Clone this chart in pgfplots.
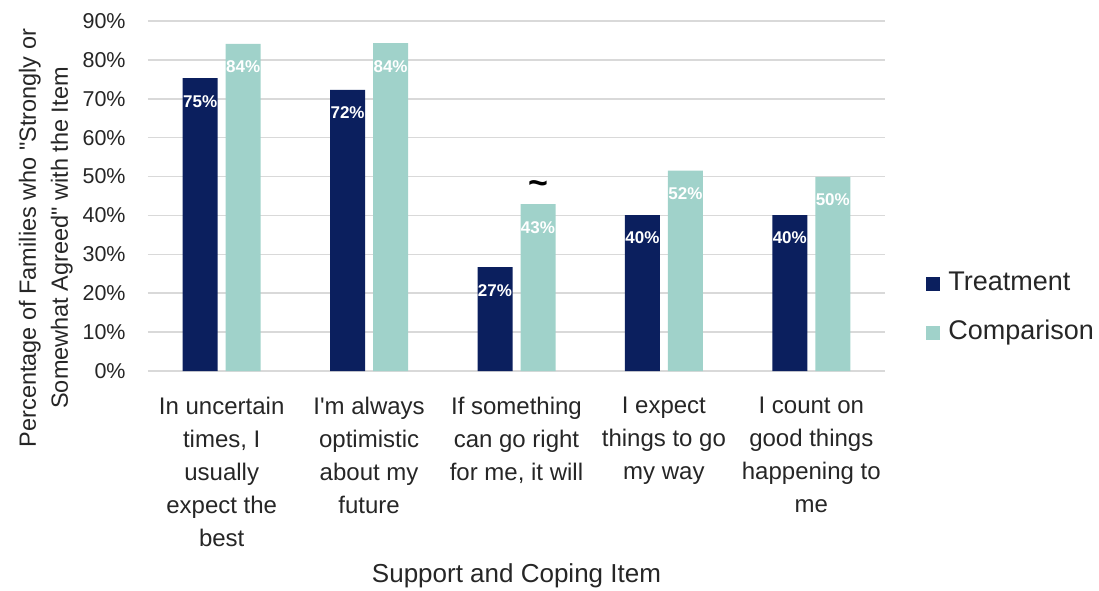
\documentclass[border=0pt]{standalone}
\usepackage{fontspec}
\setmainfont{Liberation Sans}[Ligatures=TeXOff]
\usepackage{pgfplots}
\pgfplotsset{compat=1.18}
\definecolor{treat}{HTML}{0B1F5E}
\definecolor{comp}{HTML}{A0D2CA}
\definecolor{gridc}{HTML}{D9D9D9}
\definecolor{txt}{HTML}{262626}
\begin{document}
\begin{tikzpicture}
\begin{axis}[
  at={(0,0)}, anchor=south west,
  scale only axis,
  width=368.5pt, height=175pt,
  xmin=-0.5, xmax=4.5,
  ymin=0, ymax=90,
  ytick={0,10,...,90},
  xtick={0,1,2,3,4},
  xticklabels={{In uncertain\\times, I\\usually\\expect the\\best},
               {I'm always\\optimistic\\about my\\future},
               {If something\\can go right\\for me, it will},
               {I expect\\things to go\\my way},
               {I count on\\good things\\happening to\\me}},
  xticklabel style={align=center, anchor=north, inner sep=0pt, yshift=-13pt,
     font=\fontsize{12}{16.5}\selectfont, text=txt},
  yticklabel={\pgfmathprintnumber{\tick}\%},
  yticklabel style={anchor=east, inner sep=0pt, xshift=-11pt,
     font=\fontsize{10.75}{12}\selectfont, text=txt},
  /pgf/number format/assume math mode=true,
  major tick length=0pt,
  axis line style={draw=none},
  ymajorgrids,
  grid style={gridc, line width=0.75pt},
  ybar=4pt,
  bar width=17.5pt,
  xlabel={Support and Coping Item},
  xlabel style={at={(axis description cs:0.5,0)}, anchor=center, yshift=-102.5pt,
     font=\fontsize{13}{14}\selectfont, text=txt},
  ylabel={Percentage of Families who "Strongly or\\Somewhat Agreed" with the Item},
  ylabel style={at={(axis description cs:-0.1385,0.38)}, anchor=center,
     align=center, font=\fontsize{11.75}{16}\selectfont, text=txt},
  nodes near coords={\pgfmathprintnumber[fixed,precision=0]{\pgfplotspointmeta}\%},
  nodes near coords style={anchor=center, yshift=-11.5pt, text=white,
     font=\fontsize{8.5}{9}\selectfont\bfseries},
  legend style={at={(axis description cs:1.0556,0.1814)}, anchor=west,
     draw=none, fill=none, inner sep=0pt, row sep=11.5pt,
     font=\fontsize{13.5}{14}\selectfont,
     nodes={inner sep=0pt, text height=10pt, text depth=3pt, text=txt}},
  legend cell align=left,
  legend image code/.code={\path[#1,draw=none] (0pt,-4pt) rectangle (7pt,3pt); \path (11pt,0pt);},
]
\addplot[fill=treat, draw=none] coordinates {(0,75.3) (1,72.3) (2,26.7) (3,40.1) (4,40.1)};
\addplot[fill=comp, draw=none] coordinates {(0,84.1) (1,84.3) (2,42.9) (3,51.5) (4,49.9)};
\legend{Treatment, Comparison}
\node[font=\fontsize{17}{17}\selectfont\bfseries, text=black] at (axis cs:2.146,47.3) {\textasciitilde};
\end{axis}
\pgfresetboundingbox
\path (-74pt,-109.5pt) rectangle (475.5pt,185.5pt);
\end{tikzpicture}
\end{document}
